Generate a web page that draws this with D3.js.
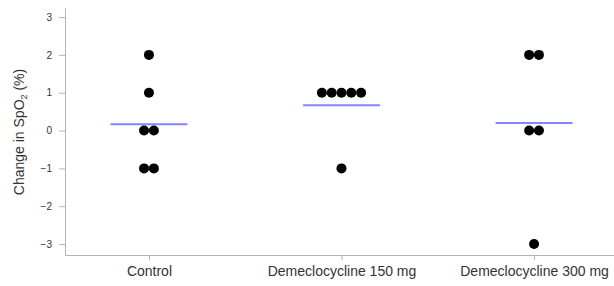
<!DOCTYPE html>
<html><head><meta charset="utf-8">
<script src="https://cdn.jsdelivr.net/npm/d3@7"></script>
<style>
body{margin:0;background:#fff;}
svg{display:block;font-family:"Liberation Sans",Arial,sans-serif;}
</style></head>
<body><svg id="c" width="614" height="286"></svg>
<script>
const categories = ["Control", "Demeclocycline 150 mg", "Demeclocycline 300 mg"];
const controlValues = [2, 1, 0, 0, -1, -1];
const deme150Values = [1, 1, 1, 1, 1, -1];
const deme300Values = [2, 2, 0, 0, -3];
const yTicks = [-3, -2, -1, 0, 1, 2, 3];
const yLabel = "Change in SpO";

const groups = [controlValues, deme150Values, deme300Values];
const svg = d3.select("#c");

const x = d3.scalePoint().domain(categories).range([65, 618]).padding(0.436);
const y = d3.scaleLinear().domain([-3.29, 3.24]).range([255, 8]);

const axisColor = "#b4b4b4", textColor = "#333";

const gy = svg.append("g").attr("transform", "translate(65,0)")
  .call(d3.axisLeft(y).tickValues(yTicks).tickFormat(d3.format("d")).tickSize(6).tickSizeOuter(0).tickPadding(7));
gy.selectAll("text").attr("font-size", 10).attr("fill", textColor).attr("font-family", "Liberation Sans, Arial, sans-serif");

const gx = svg.append("g").attr("transform", "translate(0,255)")
  .call(d3.axisBottom(x).tickSize(5).tickSizeOuter(0).tickPadding(6));
gx.selectAll("text").attr("font-size", 14).attr("fill", textColor).attr("font-family", "Liberation Sans, Arial, sans-serif");

svg.selectAll(".domain, .tick line").attr("stroke", axisColor);

// y label
const yl = svg.append("text")
  .attr("transform", "translate(24,132) rotate(-90)")
  .attr("text-anchor", "middle")
  .attr("font-size", 14)
  .attr("fill", textColor);
yl.append("tspan").text(yLabel);
yl.append("tspan").attr("font-size", 9).attr("dy", 3).text("2");
yl.append("tspan").attr("dy", -3).text(" (%)");

// mean lines
const halfLen = 38.5;
groups.forEach((vals, i) => {
  const cx = x(categories[i]);
  const m = d3.mean(vals);
  svg.append("line")
    .attr("x1", cx - halfLen).attr("x2", cx + halfLen)
    .attr("y1", y(m)).attr("y2", y(m))
    .attr("stroke", "#8484ff").attr("stroke-width", 2);
});

// dots: same values placed side by side
const spacing = 9.8;
groups.forEach((vals, i) => {
  const cx = x(categories[i]);
  const counts = d3.rollup(vals, v => v.length, d => d);
  const seen = new Map();
  const pts = vals.map(v => {
    const n = counts.get(v);
    const k = seen.get(v) || 0;
    seen.set(v, k + 1);
    return { v, dx: (k - (n - 1) / 2) * spacing };
  });
  svg.selectAll(null).data(pts).enter().append("circle")
    .attr("cx", d => cx + d.dx)
    .attr("cy", d => y(d.v))
    .attr("r", 5)
    .attr("fill", "#000");
});
</script></body></html>
